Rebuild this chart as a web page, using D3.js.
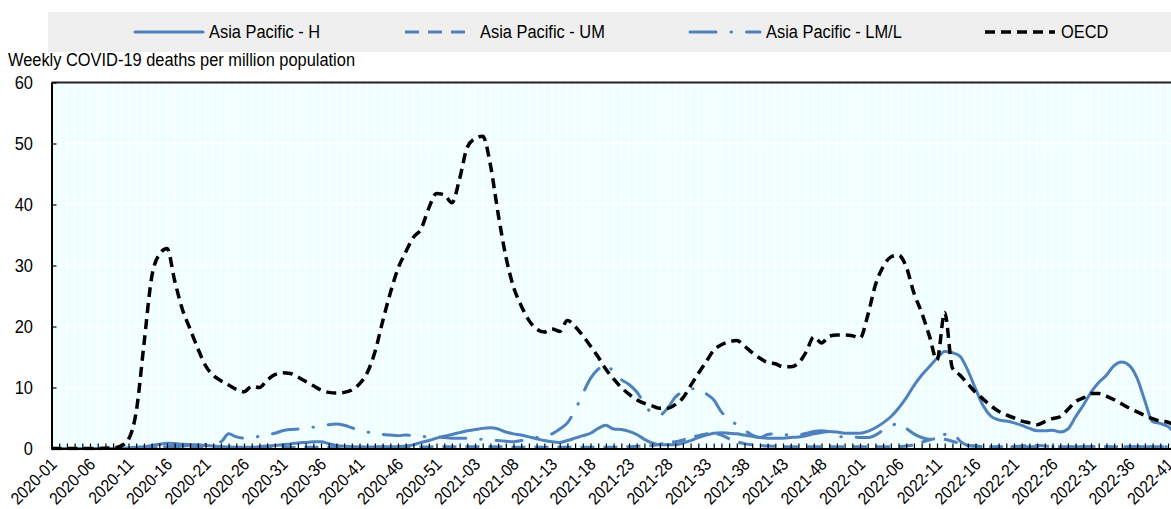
<!DOCTYPE html>
<html><head><meta charset="utf-8">
<script src="https://cdn.jsdelivr.net/npm/d3@7"></script>
<style>
html,body{margin:0;padding:0;background:#fff;}
svg{display:block;}
text{font-family:'Liberation Sans Narrow','Arial Narrow','Liberation Sans',Arial,sans-serif;fill:#000;}
</style></head><body>
<svg id="chart" width="1171" height="509"></svg>
<script>
// ---- data ----
const yearWeeks = [[2020, 53], [2021, 52], [2022, 43]];
const weeks = [];
yearWeeks.forEach(([yr, n]) => { for (let w = 1; w <= n; w++) weeks.push(yr + "-" + String(w).padStart(2, "0")); });

const tickLabels = ["2020-01","2020-06","2020-11","2020-16","2020-21","2020-26","2020-31","2020-36","2020-41","2020-46","2020-51",
  "2021-03","2021-08","2021-13","2021-18","2021-23","2021-28","2021-33","2021-38","2021-43","2021-48",
  "2022-01","2022-06","2022-11","2022-16","2022-21","2022-26","2022-31","2022-36","2022-41"];
const yTicks = [0, 10, 20, 30, 40, 50, 60];
const seriesNames = ["Asia Pacific - H", "Asia Pacific - UM", "Asia Pacific - LM/L", "OECD"];
const yTitle = "Weekly COVID-19 deaths per million population";

const apH = [0,0,0,0,0,0,0,0,0.02,0.05,
  0.1,0.2,0.3,0.5,0.7,0.85,0.8,0.7,0.65,0.6,
  0.5,0.4,0.3,0.25,0.2,0.2,0.2,0.3,0.4,0.5,
  0.6,0.75,0.9,1.0,1.1,1.1,0.8,0.5,0.35,0.3,
  0.25,0.25,0.25,0.3,0.3,0.3,0.4,0.6,1.0,1.3,
  1.7,2.0,2.3,2.6,2.9,3.1,3.3,3.4,3.2,2.7,
  2.4,2.2,1.9,1.6,1.3,1.1,1.0,1.3,1.7,2.1,
  2.5,3.3,3.8,3.2,3.1,2.8,2.3,1.5,0.9,0.6,
  0.6,0.6,0.9,1.3,1.8,2.2,2.5,2.6,2.5,2.4,
  2.2,2.0,1.8,1.7,1.7,1.7,1.8,1.9,2.1,2.4,
  2.6,2.8,2.7,2.5,2.5,2.5,2.8,3.4,4.2,5.2,
  6.6,8.3,10.3,12.0,13.4,14.8,15.9,15.7,15.1,12.8,
  9.8,7.0,5.3,4.7,4.5,4.2,3.8,3.3,2.9,2.9,
  3.0,2.7,3.2,5.2,7.1,9.2,10.8,12.0,13.6,14.2,
  13.6,11.5,7.8,4.4,4.1,3.6,2.4,1.5];
const apUM = [0,0,0,0,0,0,0,0,0,0,
  0,0.05,0.1,0.15,0.2,0.2,0.2,0.25,0.25,0.25,
  0.2,0.2,0.2,0.2,0.15,0.15,0.15,0.15,0.15,0.15,
  0.15,0.15,0.15,0.2,0.2,0.2,0.2,0.2,0.2,0.2,
  0.2,0.2,0.2,0.2,0.2,0.2,0.2,0.2,0.25,0.25,
  0.3,0.3,0.3,0.3,0.3,0.3,0.3,0.3,0.3,0.3,
  0.2,0.2,0.2,0.2,0.2,0.2,0.2,0.2,0.2,0.2,
  0.2,0.2,0.2,0.2,0.25,0.3,0.35,0.4,0.5,0.7,
  1.0,1.1,1.4,1.8,2.1,2.4,2.5,2.2,1.6,1.1,
  0.8,0.6,0.5,0.4,0.35,0.3,0.3,0.3,0.3,0.3,
  0.3,0.3,0.3,0.3,0.3,0.3,0.3,0.3,0.3,0.3,
  0.3,0.4,0.6,1.0,1.4,1.6,1.5,1.2,0.8,0.5,
  0.4,0.3,0.3,0.3,0.3,0.3,0.4,0.5,0.5,0.4,
  0.3,0.3,0.3,0.3,0.3,0.3,0.3,0.3,0.3,0.3,
  0.3,0.3,0.3,0.3,0.3,0.3,0.3,0.3];
const apLML = [0,0,0,0,0,0,0,0,0,0,
  0.05,0.1,0.15,0.2,0.25,0.3,0.35,0.4,0.5,0.55,
  0.7,0.9,1.1,2.4,1.9,1.7,1.8,2.0,2.3,2.5,
  2.9,3.1,3.2,3.4,3.5,3.7,3.9,4.0,3.8,3.4,
  3.0,2.7,2.5,2.3,2.2,2.1,2.2,2.1,2.0,1.9,
  1.9,1.8,1.7,1.7,1.7,1.6,1.5,1.4,1.3,1.2,
  1.1,1.3,1.5,1.8,2.0,2.4,3.2,4.2,6.3,9.0,
  11.5,13.0,13.8,12.5,11.3,10.5,9.3,7.3,5.8,5.5,
  6.6,8.4,9.3,9.8,9.8,9.0,8.0,6.0,4.8,3.9,
  3.0,2.2,1.8,2.3,2.4,2.3,2.2,2.2,2.5,2.8,
  2.9,2.8,2.0,1.9,1.9,1.8,1.8,2.2,3.0,3.6,
  4.2,3.3,2.4,1.8,1.5,1.7,2.3,2.5,1.2,0.5,
  0.4,0.3,0.3,0.3,0.3,0.3,0.3,0.3,0.3,0.3,
  0.3,0.3,0.3,0.3,0.3,0.3,0.3,0.3,0.3,0.3,
  0.3,0.3,0.3,0.3,0.3,0.3,0.3,0.3];
const oecd = [0,0,0,0,0,0,0,0.05,0.1,0.4,
  1.5,6.0,17.0,28.0,31.8,32.8,27.5,22.8,19.6,16.4,
  13.6,12.0,11.1,10.4,9.7,9.3,10.2,10.0,11.2,12.1,
  12.4,12.3,11.7,11.0,10.3,9.6,9.2,9.1,9.2,9.6,
  10.6,12.4,15.8,20.8,25.5,29.5,32.2,34.6,36.0,39.4,
  41.8,41.6,40.3,44.2,49.4,50.8,51.2,46.5,38.5,31.5,
  26.5,23.4,21.0,19.6,19.1,19.6,19.2,21.0,20.0,18.5,
  16.8,15.0,13.0,11.4,10.0,8.9,8.0,7.4,7.0,6.6,
  6.6,7.2,8.3,10.3,12.3,14.2,16.1,17.0,17.5,17.7,
  16.8,15.7,14.8,14.1,13.9,13.4,13.4,14.0,15.8,18.3,
  17.3,18.4,18.6,18.6,18.5,18.1,21.8,26.8,29.8,31.4,
  31.7,29.8,25.5,22.3,18.5,14.5,22.3,13.2,12.0,10.6,
  9.2,8.1,7.0,6.1,5.5,5.0,4.5,4.2,3.9,4.4,
  4.9,5.2,6.4,7.7,8.3,9.0,9.0,8.6,8.0,7.3,
  6.6,6.0,5.4,4.9,4.5,4.3,3.7,3.2];

// ---- layout ----
const svg = d3.select("#chart");
const pL = 51.5, pT = 82.5, pB = 448.5, step = 7.7;
const pR = pL + step * (weeks.length - 1);
const x = d3.scalePoint().domain(weeks).range([pL, pR]);
const y = d3.scaleLinear().domain([0, 60]).range([pB, pT]);
const FS = 18, FSX = 17;

svg.append("rect").attr("x", 48).attr("y", 12).attr("width", 1130).attr("height", 40).attr("fill", "#efefef");

svg.append("rect").attr("x", pL).attr("y", pT).attr("width", pR - pL).attr("height", pB - pT).attr("fill", "#effefe");
svg.append("g").selectAll("line").data(weeks).join("line")
  .attr("x1", d => x(d)).attr("x2", d => x(d)).attr("y1", pT).attr("y2", pB)
  .attr("stroke", "#ffffff").attr("stroke-width", 1.3);
svg.append("g").selectAll("line").data(yTicks.slice(1)).join("line")
  .attr("x1", pL).attr("x2", pR).attr("y1", d => y(d)).attr("y2", d => y(d))
  .attr("stroke", "#ffffff").attr("stroke-width", 1.3);

svg.append("line").attr("x1", pL).attr("x2", pR).attr("y1", pT).attr("y2", pT).attr("stroke", "#222").attr("stroke-width", 2);

svg.append("clipPath").attr("id", "clip").append("rect").attr("x", pL).attr("y", pT - 2).attr("width", pR - pL).attr("height", pB - pT + 4);

const series = [
  { name: seriesNames[0], vals: apH, color: "#4f81bd", width: 3, dash: null, cap: "round" },
  { name: seriesNames[1], vals: apUM, color: "#4f81bd", width: 3, dash: "14,9", cap: "butt" },
  { name: seriesNames[2], vals: apLML, color: "#4f81bd", width: 3, dash: "26,15,0.5,15", cap: "round" },
  { name: seriesNames[3], vals: oecd, color: "#000000", width: 3.5, dash: "10,6", cap: "butt" }
];
const line = d3.line().x((d, i) => x(weeks[i])).y(d => y(d)).curve(d3.curveMonotoneX);
const gl = svg.append("g").attr("clip-path", "url(#clip)");
series.forEach(s => {
  gl.append("path").attr("d", line(s.vals)).attr("fill", "none").attr("stroke", s.color)
    .attr("stroke-width", s.width).attr("stroke-dasharray", s.dash).attr("stroke-linecap", s.cap)
    .attr("stroke-linejoin", "round");
});

const gx = svg.append("g").attr("transform", `translate(0,${pB})`)
  .call(d3.axisBottom(x).tickValues(weeks).tickSizeInner(-5).tickSizeOuter(0).tickFormat(""));
gx.select(".domain").attr("stroke", "#000").attr("stroke-width", 2);
gx.selectAll(".tick line").attr("stroke", "#000").attr("stroke-width", 1.2);
const gxl = svg.append("g").attr("transform", `translate(0,${pB})`)
  .call(d3.axisBottom(x).tickValues(tickLabels).tickSize(0));
gxl.attr("font-family", null).attr("font-size", null);
gxl.select(".domain").remove();
gxl.selectAll(".tick text").attr("class", "nar").attr("x", 0).attr("y", 0).attr("dy", null)
  .attr("dominant-baseline", "central").attr("text-anchor", "end")
  .attr("transform", "translate(2,13) rotate(-45)")
  .style("font-size", FSX + "px");

const gy = svg.append("g").attr("transform", `translate(${pL},0)`)
  .call(d3.axisLeft(y).tickValues(yTicks).tickSizeInner(-5).tickSizeOuter(0).tickPadding(18.5));
gy.attr("font-family", null).attr("font-size", null);
gy.select(".domain").attr("stroke", "#000").attr("stroke-width", 2);
gy.selectAll(".tick line").attr("stroke", "#000").attr("stroke-width", 1.2);
gy.selectAll(".tick text").attr("class", "nar").attr("dy", null).attr("dominant-baseline", "central").style("font-size", FS + "px");

const title = svg.append("text").attr("class", "nar").attr("x", 8).attr("y", 66).style("font-size", FS + "px").text(yTitle);

const legendPos = [
  { x1: 135, x2: 203, tx: 209 },
  { x1: 405, x2: 472, tx: 480 },
  { x1: 690, x2: 760, tx: 766 },
  { x1: 985, x2: 1055, tx: 1061 }
];
series.forEach((s, i) => {
  const p = legendPos[i];
  svg.append("line").attr("x1", p.x1).attr("x2", p.x2).attr("y1", 32).attr("y2", 32)
    .attr("stroke", s.color).attr("stroke-width", s.width).attr("stroke-dasharray", s.dash).attr("stroke-linecap", s.cap);
  svg.append("text").attr("class", "nar").attr("x", p.tx).attr("y", 32).attr("dominant-baseline", "central")
    .style("font-size", FS + "px").text(s.name);
});

const tw = title.node().getComputedTextLength();
const f = 347 / tw;
if (Math.abs(f - 1) > 0.02) {
  svg.selectAll("text.nar").each(function () {
    const len = this.getComputedTextLength();
    d3.select(this).attr("textLength", len * f).attr("lengthAdjust", "spacingAndGlyphs");
  });
}
</script>
</body></html>
